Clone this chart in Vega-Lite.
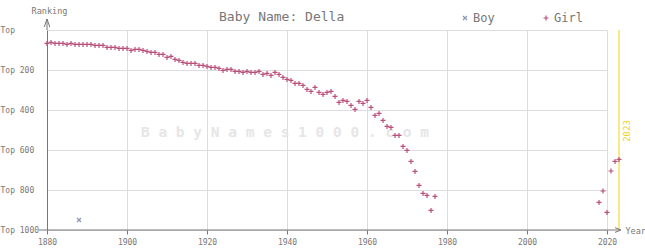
{
  "$schema": "https://vega.github.io/schema/vega-lite/v6.json",
  "width": 560,
  "height": 200,
  "autosize": "none",
  "padding": {"left": 47, "top": 30, "right": 38, "bottom": 20},
  "background": "white",
  "config": {"view": {"stroke": null}, "font": "DejaVu Sans Mono"},
  "title": {"text": "Baby Name: Della", "font": "DejaVu Sans Mono", "fontSize": 13, "fontWeight": "normal", "color": "#777777", "anchor": "start", "frame": "group", "dx": 172, "dy": 24, "offset": 6},
  "datasets": {
    "names": [
      {"year": 1888, "rank": 950, "sex": "Boy"},
      {"year": 1880, "rank": 67, "sex": "Girl"}, {"year": 1881, "rank": 62, "sex": "Girl"}, {"year": 1882, "rank": 67, "sex": "Girl"}, {"year": 1883, "rank": 67, "sex": "Girl"}, {"year": 1884, "rank": 67, "sex": "Girl"},
      {"year": 1885, "rank": 72, "sex": "Girl"}, {"year": 1886, "rank": 67, "sex": "Girl"}, {"year": 1887, "rank": 72, "sex": "Girl"}, {"year": 1888, "rank": 72, "sex": "Girl"}, {"year": 1889, "rank": 72, "sex": "Girl"},
      {"year": 1890, "rank": 72, "sex": "Girl"}, {"year": 1891, "rank": 72, "sex": "Girl"}, {"year": 1892, "rank": 77, "sex": "Girl"}, {"year": 1893, "rank": 77, "sex": "Girl"}, {"year": 1894, "rank": 77, "sex": "Girl"},
      {"year": 1895, "rank": 87, "sex": "Girl"}, {"year": 1896, "rank": 87, "sex": "Girl"}, {"year": 1897, "rank": 87, "sex": "Girl"}, {"year": 1898, "rank": 92, "sex": "Girl"}, {"year": 1899, "rank": 92, "sex": "Girl"},
      {"year": 1900, "rank": 92, "sex": "Girl"}, {"year": 1901, "rank": 102, "sex": "Girl"}, {"year": 1902, "rank": 97, "sex": "Girl"}, {"year": 1903, "rank": 97, "sex": "Girl"}, {"year": 1904, "rank": 102, "sex": "Girl"},
      {"year": 1905, "rank": 107, "sex": "Girl"}, {"year": 1906, "rank": 112, "sex": "Girl"}, {"year": 1907, "rank": 112, "sex": "Girl"}, {"year": 1908, "rank": 122, "sex": "Girl"}, {"year": 1909, "rank": 122, "sex": "Girl"},
      {"year": 1910, "rank": 137, "sex": "Girl"}, {"year": 1911, "rank": 132, "sex": "Girl"}, {"year": 1912, "rank": 147, "sex": "Girl"}, {"year": 1913, "rank": 152, "sex": "Girl"}, {"year": 1914, "rank": 162, "sex": "Girl"},
      {"year": 1915, "rank": 167, "sex": "Girl"}, {"year": 1916, "rank": 167, "sex": "Girl"}, {"year": 1917, "rank": 167, "sex": "Girl"}, {"year": 1918, "rank": 177, "sex": "Girl"}, {"year": 1919, "rank": 177, "sex": "Girl"},
      {"year": 1920, "rank": 182, "sex": "Girl"}, {"year": 1921, "rank": 187, "sex": "Girl"}, {"year": 1922, "rank": 187, "sex": "Girl"}, {"year": 1923, "rank": 192, "sex": "Girl"}, {"year": 1924, "rank": 202, "sex": "Girl"},
      {"year": 1925, "rank": 197, "sex": "Girl"}, {"year": 1926, "rank": 197, "sex": "Girl"}, {"year": 1927, "rank": 207, "sex": "Girl"}, {"year": 1928, "rank": 207, "sex": "Girl"}, {"year": 1929, "rank": 212, "sex": "Girl"},
      {"year": 1930, "rank": 207, "sex": "Girl"}, {"year": 1931, "rank": 212, "sex": "Girl"}, {"year": 1932, "rank": 212, "sex": "Girl"}, {"year": 1933, "rank": 207, "sex": "Girl"}, {"year": 1934, "rank": 222, "sex": "Girl"},
      {"year": 1935, "rank": 217, "sex": "Girl"}, {"year": 1936, "rank": 227, "sex": "Girl"}, {"year": 1937, "rank": 212, "sex": "Girl"}, {"year": 1938, "rank": 222, "sex": "Girl"}, {"year": 1939, "rank": 237, "sex": "Girl"},
      {"year": 1940, "rank": 247, "sex": "Girl"}, {"year": 1941, "rank": 252, "sex": "Girl"}, {"year": 1942, "rank": 267, "sex": "Girl"}, {"year": 1943, "rank": 267, "sex": "Girl"}, {"year": 1944, "rank": 277, "sex": "Girl"},
      {"year": 1945, "rank": 297, "sex": "Girl"}, {"year": 1946, "rank": 307, "sex": "Girl"}, {"year": 1947, "rank": 287, "sex": "Girl"}, {"year": 1948, "rank": 312, "sex": "Girl"}, {"year": 1949, "rank": 322, "sex": "Girl"},
      {"year": 1950, "rank": 312, "sex": "Girl"}, {"year": 1951, "rank": 307, "sex": "Girl"}, {"year": 1952, "rank": 332, "sex": "Girl"}, {"year": 1953, "rank": 362, "sex": "Girl"}, {"year": 1954, "rank": 352, "sex": "Girl"},
      {"year": 1955, "rank": 357, "sex": "Girl"}, {"year": 1956, "rank": 377, "sex": "Girl"}, {"year": 1957, "rank": 397, "sex": "Girl"}, {"year": 1958, "rank": 357, "sex": "Girl"}, {"year": 1959, "rank": 367, "sex": "Girl"},
      {"year": 1960, "rank": 352, "sex": "Girl"}, {"year": 1961, "rank": 387, "sex": "Girl"}, {"year": 1962, "rank": 427, "sex": "Girl"}, {"year": 1963, "rank": 417, "sex": "Girl"}, {"year": 1964, "rank": 452, "sex": "Girl"},
      {"year": 1965, "rank": 482, "sex": "Girl"}, {"year": 1966, "rank": 487, "sex": "Girl"}, {"year": 1967, "rank": 527, "sex": "Girl"}, {"year": 1968, "rank": 527, "sex": "Girl"}, {"year": 1969, "rank": 582, "sex": "Girl"},
      {"year": 1970, "rank": 602, "sex": "Girl"}, {"year": 1971, "rank": 657, "sex": "Girl"}, {"year": 1972, "rank": 707, "sex": "Girl"}, {"year": 1973, "rank": 777, "sex": "Girl"}, {"year": 1974, "rank": 817, "sex": "Girl"},
      {"year": 1975, "rank": 827, "sex": "Girl"}, {"year": 1976, "rank": 902, "sex": "Girl"}, {"year": 1977, "rank": 832, "sex": "Girl"},
      {"year": 2018, "rank": 862, "sex": "Girl"}, {"year": 2019, "rank": 805, "sex": "Girl"}, {"year": 2020, "rank": 912, "sex": "Girl"}, {"year": 2021, "rank": 705, "sex": "Girl"}, {"year": 2022, "rank": 657, "sex": "Girl"}, {"year": 2023, "rank": 647, "sex": "Girl"}
    ],
    "single": [{"k": 1}]
  },
  "layer": [
    {
      "data": {"name": "single"},
      "mark": {"type": "text", "text": "B a b y N a m e s 1 0 0 0 . c o m", "font": "DejaVu Sans Mono", "fontSize": 14.5, "fontWeight": "bold", "color": "#e6e6e6", "align": "center", "baseline": "middle"},
      "encoding": {"x": {"datum": 1939.5, "type": "quantitative"}, "y": {"datum": 515, "type": "quantitative"}}
    },
    {
      "data": {"name": "single"},
      "mark": {"type": "rule", "color": "#f2d21b", "strokeWidth": 1},
      "encoding": {"x": {"datum": 2023, "type": "quantitative"}}
    },
    {
      "data": {"name": "single"},
      "mark": {"type": "text", "text": "2023", "font": "DejaVu Sans Mono", "fontSize": 9, "color": "#f2d21b", "align": "center", "baseline": "middle", "angle": 270},
      "encoding": {"x": {"datum": 2025, "type": "quantitative"}, "y": {"datum": 505, "type": "quantitative"}}
    },
    {
      "data": {"name": "single"},
      "mark": {"type": "rule", "color": "#777777", "strokeWidth": 1},
      "encoding": {"x": {"datum": 1878, "type": "quantitative"}, "x2": {"datum": 2023}, "y": {"datum": 1000, "type": "quantitative"}}
    },
    {
      "data": {"name": "single"},
      "mark": {"type": "rule", "color": "#777777", "strokeWidth": 1},
      "encoding": {"x": {"datum": 1880, "type": "quantitative"}, "y": {"datum": 0, "type": "quantitative"}, "y2": {"datum": -55}}
    },
    {
      "data": {"name": "single"},
      "mark": {"type": "point", "shape": "M-0.7,1L0,-1L0.7,1", "filled": false, "size": 64, "color": "#777777", "strokeWidth": 1, "opacity": 1},
      "encoding": {"x": {"datum": 1880, "type": "quantitative"}, "y": {"datum": -35, "type": "quantitative"}}
    },
    {
      "data": {"name": "single"},
      "mark": {"type": "point", "shape": "M-1,-0.8L1,0L-1,0.8", "filled": false, "size": 36, "color": "#777777", "strokeWidth": 1, "opacity": 1},
      "encoding": {"x": {"datum": 2022.75, "type": "quantitative"}, "y": {"datum": 1000, "type": "quantitative"}}
    },
    {
      "data": {"name": "names"},
      "mark": {"type": "point", "filled": false, "strokeWidth": 1.2, "size": 25, "opacity": 1},
      "encoding": {
        "x": {
          "field": "year", "type": "quantitative",
          "scale": {"domain": [1880, 2020], "nice": false, "zero": false},
          "axis": {
            "values": [1880, 1900, 1920, 1940, 1960, 1980, 2000, 2020], "tickCount": 20,
            "format": "d", "grid": true, "gridColor": "#dddddd", "domain": false,
            "labelFlush": false, "labelOverlap": false,
            "tickSize": 4, "tickColor": "#777777", "labelFont": "DejaVu Sans Mono", "labelFontSize": 8, "labelColor": "#777777", "labelPadding": 4,
            "title": "Year", "titleX": 578, "titleY": 0, "titleAlign": "left", "titleBaseline": "middle", "titleFont": "DejaVu Sans Mono", "titleFontSize": 8.5, "titleFontWeight": "normal", "titleColor": "#777777"
          }
        },
        "y": {
          "field": "rank", "type": "quantitative",
          "scale": {"domain": [0, 1000], "reverse": true, "nice": false, "zero": false},
          "axis": {
            "values": [0, 200, 400, 600, 800, 1000], "tickCount": 20,
            "labelExpr": "datum.value == 0 ? 'Top' : 'Top ' + datum.value",
            "labelFlush": false, "labelOverlap": false,
            "grid": true, "gridColor": "#dddddd", "domain": true, "domainColor": "#777777",
            "tickSize": 0, "labelAlign": "left", "labelPadding": 47, "labelBaseline": "middle",
            "labelFont": "DejaVu Sans Mono", "labelFontSize": 8, "labelColor": "#777777",
            "title": "Ranking", "titleAngle": 0, "titleX": 2, "titleY": -20, "titleAlign": "center", "titleBaseline": "middle", "titleFont": "DejaVu Sans Mono", "titleFontSize": 8.5, "titleFontWeight": "normal", "titleColor": "#777777"
          }
        },
        "color": {
          "field": "sex", "type": "nominal",
          "scale": {"domain": ["Boy", "Girl"], "range": ["#8a95b8", "#b9507b"]},
          "legend": {"orient": "none", "legendX": 412, "legendY": -18, "direction": "horizontal", "title": null, "labelFont": "DejaVu Sans Mono", "labelFontSize": 12, "labelColor": "#777777", "symbolSize": 25, "symbolStrokeWidth": 1.2, "columnPadding": 45, "labelOffset": 2}
        },
        "shape": {
          "field": "sex", "type": "nominal",
          "scale": {"domain": ["Boy", "Girl"], "range": ["M-0.8,-0.8L0.8,0.8M-0.8,0.8L0.8,-0.8", "M-1,0H1M0,-1V1"]}
        }
      }
    }
  ]
}
